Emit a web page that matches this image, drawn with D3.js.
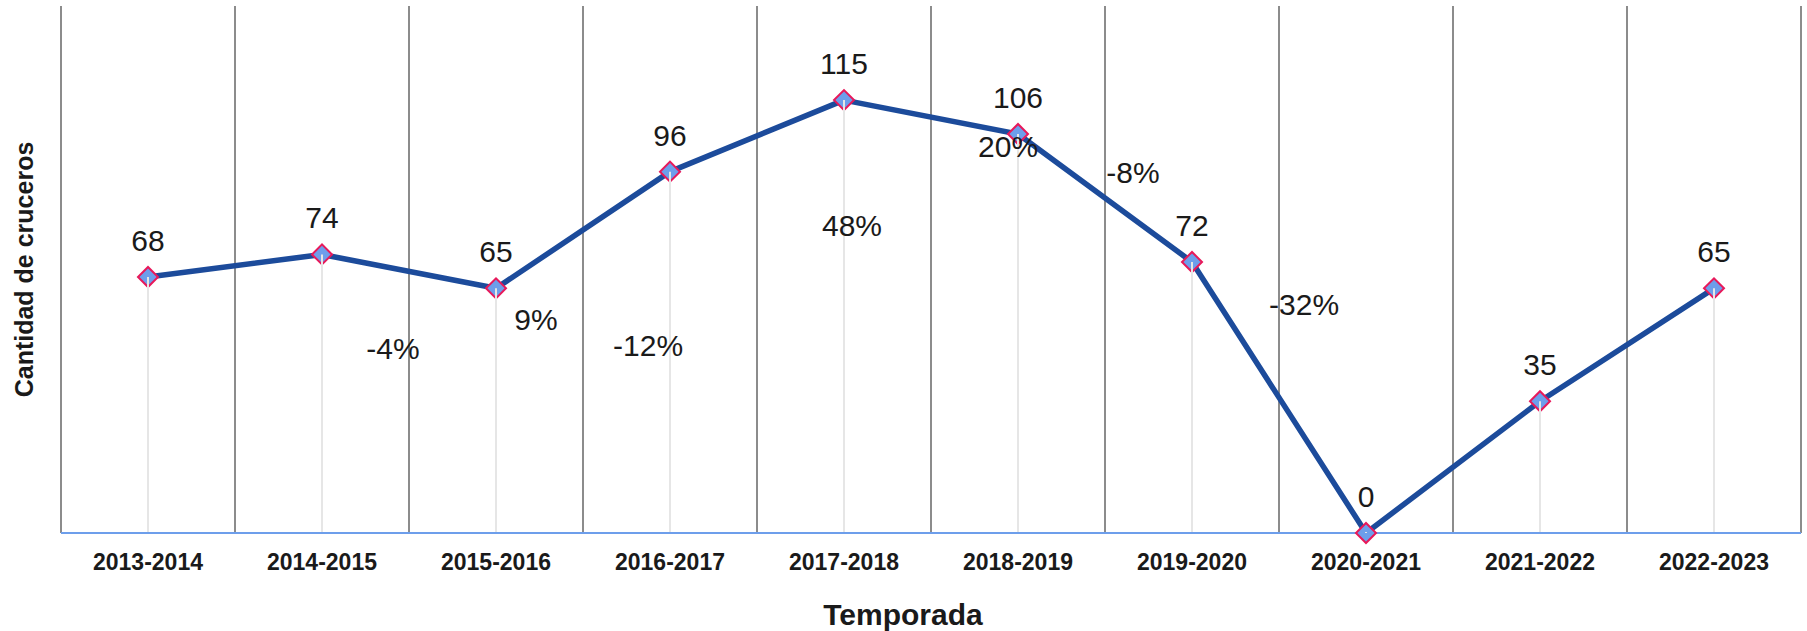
<!DOCTYPE html>
<html>
<head>
<meta charset="utf-8">
<script src="https://cdn.jsdelivr.net/npm/d3@7"></script>
<style>
  html, body { margin: 0; padding: 0; background: #fff; }
  svg { display: block; font-family: "Liberation Sans", Arial, sans-serif; }
</style>
</head>
<body>
<div id="grafico"></div>
<script>
// Datos del gráfico
const temporadas = ["2013-2014", "2014-2015", "2015-2016", "2016-2017", "2017-2018",
                    "2018-2019", "2019-2020", "2020-2021", "2021-2022", "2022-2023"];
const cruceros = [68, 74, 65, 96, 115, 106, 72, 0, 35, 65];

// Etiquetas de variación (posición en unidades de banda y de valor)
const variaciones = ["-4%", "9%", "-12%", "48%", "20%", "-8%", "-32%"];
const variacionX = [1.908, 2.73, 3.374, 4.546, 5.443, 6.161, 7.144];
const variacionY = [49.1, 56.8, 49.7, 81.8, 102.8, 95.9, 60.6];

const yDominio = [0, 140];

const width = 1807;
const height = 631;
const margin = { top: 6, right: 6, bottom: 98, left: 61 };

const svg = d3.select("#grafico")
    .append("svg")
    .attr("width", width)
    .attr("height", height);

const xScale = d3.scaleBand()
    .domain(temporadas)
    .range([margin.left, width - margin.right])
    .padding(0);

// escala auxiliar para posiciones fraccionarias entre bandas
const xPos = d3.scaleLinear()
    .domain([0, temporadas.length])
    .range([margin.left, width - margin.right]);

const yScale = d3.scaleLinear()
    .domain(yDominio)
    .range([height - margin.bottom, margin.top]);

const cx = d => xScale(d) + xScale.bandwidth() / 2;

// Líneas verticales entre categorías
svg.append("g")
    .selectAll("line")
    .data(d3.range(temporadas.length + 1))
    .join("line")
    .attr("x1", i => xPos(i))
    .attr("x2", i => xPos(i))
    .attr("y1", yScale(yDominio[1]))
    .attr("y2", yScale(0))
    .attr("stroke", "#8c8c8c")
    .attr("stroke-width", 2);

// Eje X
const xAxis = d3.axisBottom(xScale).tickSize(0).tickPadding(0);
svg.append("g")
    .attr("class", "x-axis")
    .attr("transform", `translate(0, ${yScale(0)})`)
    .call(xAxis)
    .call(g => g.select(".domain")
        .attr("stroke", "#6d9eeb")
        .attr("stroke-width", 2)
        .attr("d", `M${xPos(0)},0H${xPos(temporadas.length)}`))
    .call(g => g.selectAll(".tick text")
        .attr("y", 37)
        .attr("dy", 0)
        .attr("fill", "#1a1a1a")
        .style("font-size", "23px")
        .style("font-weight", "bold")
        .style("font-family", "'Liberation Sans', Arial, sans-serif"));

// Línea principal
const line = d3.line()
    .x((d, i) => cx(temporadas[i]))
    .y(d => yScale(d));

svg.append("path")
    .datum(cruceros)
    .attr("fill", "none")
    .attr("stroke", "#1c4b9b")
    .attr("stroke-width", 5.5)
    .attr("stroke-linejoin", "round")
    .attr("d", line);

// Marcadores (rombos)
const rombo = d3.symbol().type(d3.symbolSquare).size(200);
svg.append("g")
    .selectAll("path")
    .data(cruceros)
    .join("path")
    .attr("d", rombo)
    .attr("transform", (d, i) => `translate(${cx(temporadas[i])},${yScale(d)}) rotate(45)`)
    .attr("fill", "#6d9eeb")
    .attr("stroke", "#e8195a")
    .attr("stroke-width", 2);

// Líneas de caída
svg.append("g")
    .selectAll("line")
    .data(cruceros)
    .join("line")
    .attr("x1", (d, i) => cx(temporadas[i]))
    .attr("x2", (d, i) => cx(temporadas[i]))
    .attr("y1", d => yScale(d))
    .attr("y2", yScale(0) - 1)
    .attr("stroke", "#e6e6e6")
    .attr("stroke-width", 2);

// Etiquetas de valor
svg.append("g")
    .selectAll("text")
    .data(cruceros)
    .join("text")
    .attr("x", (d, i) => cx(temporadas[i]))
    .attr("y", d => yScale(d) - 26)
    .attr("text-anchor", "middle")
    .attr("fill", "#1a1a1a")
    .style("font-size", "30px")
    .text(d => d);

// Etiquetas de variación
svg.append("g")
    .selectAll("text")
    .data(variaciones)
    .join("text")
    .attr("x", (d, i) => xPos(variacionX[i]))
    .attr("y", (d, i) => yScale(variacionY[i]))
    .attr("dy", "0.35em")
    .attr("text-anchor", "middle")
    .attr("fill", "#1a1a1a")
    .style("font-size", "30px")
    .text(d => d);

// Títulos de ejes
svg.append("text")
    .attr("x", 903)
    .attr("y", 625)
    .attr("text-anchor", "middle")
    .attr("fill", "#1a1a1a")
    .style("font-size", "30px")
    .style("font-weight", "bold")
    .text("Temporada");

svg.append("text")
    .attr("transform", `translate(33, ${(yScale(0) + yScale(yDominio[1])) / 2}) rotate(-90)`)
    .attr("text-anchor", "middle")
    .attr("fill", "#1a1a1a")
    .style("font-size", "25px")
    .style("font-weight", "bold")
    .text("Cantidad de cruceros");
</script>
</body>
</html>
